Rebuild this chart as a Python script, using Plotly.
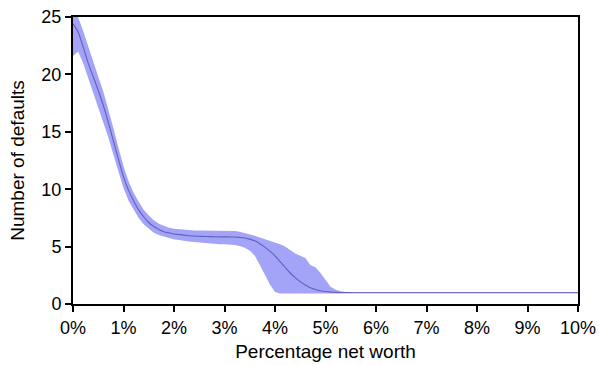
import plotly.graph_objects as go

# Percentage of net worth (x) and the number of defaults: mean with a lower/upper band
pct = [0.0, 0.1, 0.2, 0.3, 0.4, 0.5, 0.6, 0.7, 0.8, 0.9,
       1.0, 1.1, 1.2, 1.3, 1.4, 1.5, 1.6, 1.7, 1.8, 1.9,
       2.0, 2.1, 2.2, 2.3, 2.4, 2.5, 2.6, 2.7, 2.8, 2.9,
       3.0, 3.1, 3.2, 3.3, 3.4, 3.5, 3.6, 3.7, 3.8, 3.9,
       4.0, 4.1, 4.2, 4.3, 4.4, 4.5, 4.6, 4.7, 4.8, 4.9,
       5.0, 5.1, 5.2, 5.3, 5.4, 5.5, 5.6, 6.0, 10.0]

mean_defaults = [24.4, 23.7, 22.4, 21.0, 19.8, 18.6, 17.3, 15.8, 14.2, 12.6,
                 11.1, 9.9, 9.0, 8.2, 7.6, 7.1, 6.75, 6.5, 6.3, 6.2,
                 6.1, 6.05, 6.0, 5.95, 5.92, 5.9, 5.88, 5.87, 5.86, 5.85,
                 5.85, 5.84, 5.83, 5.8, 5.75, 5.65, 5.5, 5.25, 4.95, 4.6,
                 4.2, 3.7, 3.2, 2.7, 2.3, 1.95, 1.65, 1.42, 1.27, 1.16,
                 1.09, 1.05, 1.02, 1.0, 1.0, 1.0, 1.0, 1.0, 1.0]

upper_defaults = [25.3, 25.0, 23.8, 22.4, 21.1, 19.8, 18.5, 17.0, 15.3, 13.6,
                  12.0, 10.7, 9.7, 8.9, 8.2, 7.7, 7.3, 7.0, 6.8, 6.65,
                  6.55, 6.5, 6.45, 6.42, 6.4, 6.4, 6.4, 6.4, 6.4, 6.4,
                  6.4, 6.4, 6.35, 6.3, 6.2, 6.1, 5.95, 5.8, 5.65, 5.55,
                  5.35, 5.2, 5.0, 4.7, 4.4, 4.2, 4.0, 3.4, 3.2, 2.7,
                  2.1, 1.5, 1.25, 1.1, 1.05, 1.02, 1.0, 1.0, 1.0]

lower_defaults = [21.6, 22.0, 21.0, 19.7, 18.4, 17.2, 15.9, 14.5, 13.0, 11.5,
                  10.1, 9.0, 8.2, 7.5, 6.95, 6.55, 6.2, 6.0, 5.85, 5.75,
                  5.65, 5.55, 5.5, 5.45, 5.4, 5.35, 5.3, 5.25, 5.25, 5.2,
                  5.2, 5.2, 5.15, 5.05, 4.9, 4.65, 4.2, 3.4, 2.6, 1.7,
                  1.05, 0.92, 0.92, 0.92, 0.92, 0.92, 0.92, 0.92, 0.92, 0.92,
                  0.92, 0.92, 0.92, 0.92, 0.92, 0.92, 0.92, 0.92, 0.92]

x_ticks = [0, 1, 2, 3, 4, 5, 6, 7, 8, 9, 10]
x_tick_labels = [f"{v}%" for v in x_ticks]
y_ticks = [0, 5, 10, 15, 20, 25]

band_color = "rgb(163,163,248)"

fig = go.Figure()
fig.add_trace(go.Scatter(x=pct, y=lower_defaults, mode="lines",
                         line=dict(width=0, color=band_color),
                         hoverinfo="skip", showlegend=False))
fig.add_trace(go.Scatter(x=pct, y=upper_defaults, mode="lines",
                         line=dict(width=0, color=band_color),
                         fill="tonexty", fillcolor=band_color,
                         hoverinfo="skip", showlegend=False))
fig.add_trace(go.Scatter(x=pct, y=mean_defaults, mode="lines",
                         line=dict(width=1.1, color="rgba(40,40,140,0.55)", shape="spline"),
                         showlegend=False))

font = "Liberation Sans, Arial, sans-serif"
axis_common = dict(showgrid=False, zeroline=False, showline=True, automargin=False,
                   linecolor="black", linewidth=2, mirror=True,
                   ticks="outside", ticklen=6, tickwidth=2, tickcolor="black",
                   tickfont=dict(family=font, size=18, color="black"))

fig.update_layout(
    width=599, height=365,
    margin=dict(l=73, r=21, t=17, b=61),
    paper_bgcolor="white", plot_bgcolor="white",
    xaxis=dict(range=[0, 10], tickvals=x_ticks, ticktext=x_tick_labels,
               title=dict(text="Percentage net worth", standoff=8,
                          font=dict(family=font, size=19, color="black")),
               **axis_common),
    yaxis=dict(range=[0, 25], tickvals=y_ticks,
               title=dict(text="Number of defaults", standoff=12,
                          font=dict(family=font, size=19, color="black")),
               **axis_common),
)

fig.write_html("out.html")
